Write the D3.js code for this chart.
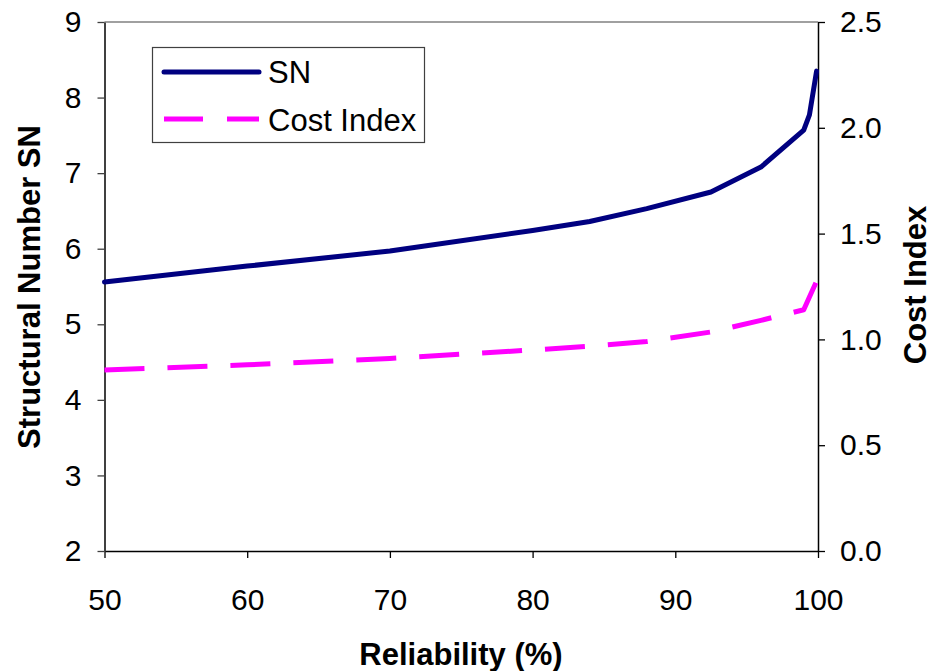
<!DOCTYPE html>
<html><head><meta charset="utf-8">
<script src="https://cdn.jsdelivr.net/npm/d3@7"></script>
<style>
body{margin:0;background:#fff;}
svg{display:block;}
text{font-family:Arial,"Liberation Sans",sans-serif;}
</style></head>
<body><svg id="chart" width="933" height="671"></svg>
<script>
const reliability = [50, 60, 70, 80, 84, 88, 92.5, 96, 99, 99.4, 99.9];
const snValues    = [5.56, 5.77, 5.97, 6.24, 6.36, 6.53, 6.75, 7.08, 7.57, 7.77, 8.35];
const costIndex   = [0.855, 0.88, 0.91, 0.95, 0.968, 0.99, 1.035, 1.09, 1.14, 1.20, 1.275];
const xTicks = [50, 60, 70, 80, 90, 100];
const leftTicks = [2, 3, 4, 5, 6, 7, 8, 9];
const rightTicks = [0, 0.5, 1.0, 1.5, 2.0, 2.5];
const seriesNames = ["SN", "Cost Index"];

const svg = d3.select("#chart");
const L = 104.5, R = 818, T = 22, B = 551;
const x = d3.scaleLinear().domain([50, 100]).range([L, R]);
const yL = d3.scaleLinear().domain([2, 9]).range([B, T]);
const yR = d3.scaleLinear().domain([0, 2.5]).range([B, T]);

// top border
svg.append("line").attr("x1", L).attr("x2", R).attr("y1", T).attr("y2", T)
  .attr("stroke", "#808080").attr("stroke-width", 1.5);

const fs = 30;
const gx = svg.append("g").attr("transform", `translate(0,${B})`)
  .call(d3.axisBottom(x).tickValues(xTicks).tickSize(7).tickSizeOuter(0).tickPadding(31).tickFormat(d3.format("d")));
const gl = svg.append("g").attr("transform", `translate(${L},0)`)
  .call(d3.axisLeft(yL).tickValues(leftTicks).tickSize(7).tickSizeOuter(0).tickPadding(16).tickFormat(d3.format("d")));
const gr = svg.append("g").attr("transform", `translate(${R},0)`)
  .call(d3.axisRight(yR).tickValues(rightTicks).tickSize(7).tickSizeOuter(0).tickPadding(15).tickFormat(d3.format(".1f")));
[gx, gl, gr].forEach(g => {
  g.selectAll("text").attr("font-size", fs).attr("fill", "#000")
   .attr("font-family", "Arial, 'Liberation Sans', sans-serif");
  g.selectAll("line").attr("stroke", "#000").attr("stroke-width", 1.3);
  g.select(".domain").attr("stroke", "#000").attr("stroke-width", 1.5);
});
gl.select(".domain").attr("stroke", "#404040").attr("stroke-width", 2);
gl.selectAll("line").attr("stroke", "#404040");

// titles
svg.append("text").attr("x", 461).attr("y", 665).attr("text-anchor", "middle")
  .attr("font-size", 31).attr("font-weight", "bold").text("Reliability (%)");
svg.append("text").attr("transform", "translate(40,287) rotate(-90)").attr("text-anchor", "middle")
  .attr("font-size", 31).attr("font-weight", "bold").text("Structural Number SN");
svg.append("text").attr("transform", "translate(926,285) rotate(-90)").attr("text-anchor", "middle")
  .attr("font-size", 31).attr("font-weight", "bold").text("Cost Index");

const snData = reliability.map((r, i) => [r, snValues[i]]);
const ciData = reliability.map((r, i) => [r, costIndex[i]]);

svg.append("path").datum(ciData)
  .attr("d", d3.line().x(d => x(d[0])).y(d => yR(d[1])))
  .attr("fill", "none").attr("stroke", "#FF00FF").attr("stroke-width", 5)
  .attr("stroke-dasharray", "40,23").attr("stroke-linejoin", "round");
svg.append("path").datum(snData)
  .attr("d", d3.line().x(d => x(d[0])).y(d => yL(d[1])))
  .attr("fill", "none").attr("stroke", "#000080").attr("stroke-width", 5)
  .attr("stroke-linejoin", "round").attr("stroke-linecap", "round");

// legend
const lg = svg.append("g");
lg.append("rect").attr("x", 152.5).attr("y", 47.5).attr("width", 272).attr("height", 95)
  .attr("fill", "#fff").attr("stroke", "#404040").attr("stroke-width", 1.2);
lg.append("line").attr("x1", 164).attr("x2", 259).attr("y1", 72).attr("y2", 72)
  .attr("stroke", "#000080").attr("stroke-width", 5).attr("stroke-linecap", "round");
lg.append("line").attr("x1", 164).attr("x2", 259).attr("y1", 119).attr("y2", 119)
  .attr("stroke", "#FF00FF").attr("stroke-width", 5).attr("stroke-dasharray", "39,24");
lg.append("text").attr("x", 268).attr("y", 83).attr("font-size", 31).text(seriesNames[0]);
lg.append("text").attr("x", 268).attr("y", 131).attr("font-size", 31).text(seriesNames[1]);
</script></body></html>
